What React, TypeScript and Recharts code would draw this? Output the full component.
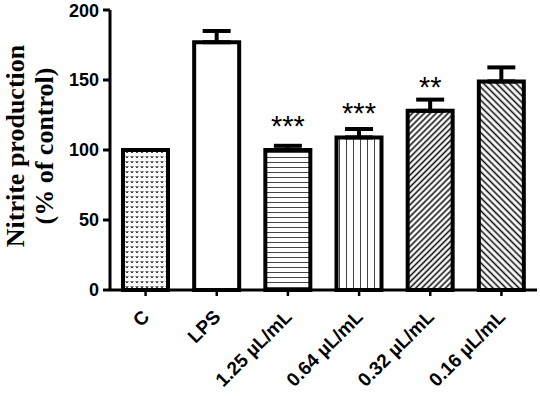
import { BarChart, Bar, XAxis, YAxis, Cell, ErrorBar, LabelList } from 'recharts';

const categories = ['C', 'LPS', '1.25 µL/mL', '0.64 µL/mL', '0.32 µL/mL', '0.16 µL/mL'];
const means = [100, 177, 100, 109, 128, 149];
const sems = [0, 8, 3, 6, 8, 10];
const marks = ['', '', '***', '***', '**', ''];
const yTicks = [0, 50, 100, 150, 200];
const fills = ['url(#dots)', '#ffffff', 'url(#hlines)', 'url(#vlines)', 'url(#fwd)', 'url(#back)'];

const data = categories.map((name, i) => ({
  name,
  value: means[i],
  err: [0, sems[i]],
  sig: marks[i],
}));

const sans = '"Liberation Sans", Arial, sans-serif';
const serif = '"Liberation Serif", "Times New Roman", serif';

function XTick({ x, y, payload }: any) {
  return (
    <g transform={`translate(${x + 5},${y + 20}) rotate(-45)`}>
      <text x={0} y={0} textAnchor="end" fontFamily={sans} fontWeight="bold" fontSize={19} fill="#000">
        {payload.value}
      </text>
    </g>
  );
}

function YLabel({ viewBox }: any) {
  const cy = viewBox.y + viewBox.height / 2 - 4;
  return (
    <g fontFamily={serif} fontWeight="bold" fontSize={26} fill="#000">
      <text transform={`translate(24,${cy}) rotate(-90)`} textAnchor="middle">Nitrite production</text>
      <text transform={`translate(53,${cy}) rotate(-90)`} textAnchor="middle">(% of control)</text>
    </g>
  );
}

export default function App() {
  return (
    <div style={{ position: 'absolute', left: 0, top: 0, width: 540, height: 396, background: '#fff' }}>
      <BarChart width={540} height={396} data={data} margin={{ top: 10, right: 3, left: 0, bottom: 0 }}>
        <defs>
          <pattern id="dots" width="5" height="5" patternUnits="userSpaceOnUse">
            <rect width="5" height="5" fill="#fff" />
            <path d="M0.8,1 L2,3 L3.2,1" stroke="#222" strokeWidth="1" fill="none" />
          </pattern>
          <pattern id="hlines" width="6" height="5" patternUnits="userSpaceOnUse">
            <rect width="6" height="5" fill="#fff" />
            <line x1="0" y1="2.5" x2="6" y2="2.5" stroke="#444" strokeWidth="1" />
          </pattern>
          <pattern id="vlines" width="7" height="6" patternUnits="userSpaceOnUse">
            <rect width="7" height="6" fill="#fff" />
            <line x1="3.5" y1="0" x2="3.5" y2="6" stroke="#444" strokeWidth="1" />
          </pattern>
          <pattern id="fwd" width="4.2" height="4.2" patternUnits="userSpaceOnUse" patternTransform="rotate(45)">
            <rect width="4.2" height="4.2" fill="#fff" />
            <line x1="2.1" y1="0" x2="2.1" y2="4.2" stroke="#111" strokeWidth="1.6" />
          </pattern>
          <pattern id="back" width="4.6" height="4.6" patternUnits="userSpaceOnUse" patternTransform="rotate(-45)">
            <rect width="4.6" height="4.6" fill="#fff" />
            <line x1="2.3" y1="0" x2="2.3" y2="4.6" stroke="#111" strokeWidth="1.6" />
          </pattern>
        </defs>
        <XAxis
          dataKey="name"
          interval={0}
          height={106}
          tick={<XTick />}
          tickSize={6}
          axisLine={{ stroke: '#000', strokeWidth: 3 }}
          tickLine={{ stroke: '#000', strokeWidth: 2.5 }}
        />
        <YAxis
          width={110}
          domain={[0, 200]}
          ticks={yTicks}
          tickSize={7}
          tickMargin={4}
          axisLine={{ stroke: '#000', strokeWidth: 3 }}
          tickLine={{ stroke: '#000', strokeWidth: 3 }}
          tick={{ fill: '#000', fontSize: 18, fontWeight: 'bold', fontFamily: sans }}
          label={<YLabel />}
        />
        <Bar dataKey="value" barSize={45} stroke="#000" strokeWidth={4} isAnimationActive={false}>
          {data.map((d, i) => (
            <Cell key={d.name} fill={fills[i]} />
          ))}
          <ErrorBar dataKey="err" direction="y" width={14} stroke="#000" strokeWidth={4} />
          <LabelList dataKey="sig" position="top" offset={14} fill="#000" fontSize={29} fontFamily={sans} />
        </Bar>
      </BarChart>
    </div>
  );
}
